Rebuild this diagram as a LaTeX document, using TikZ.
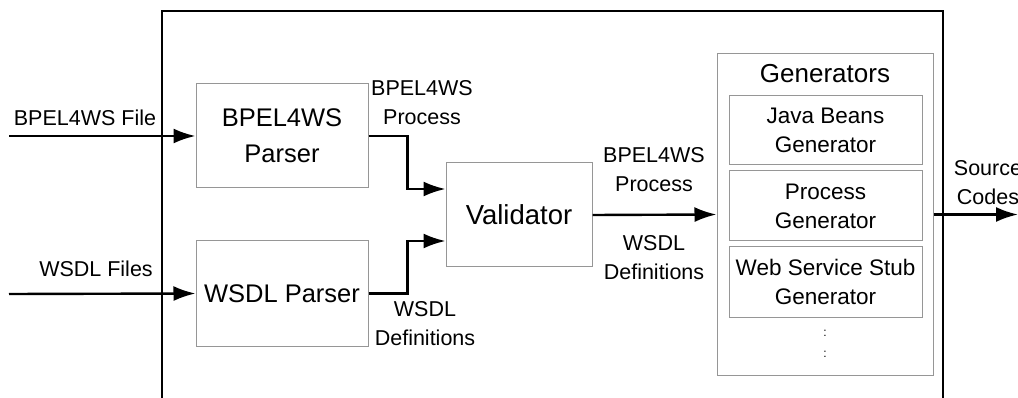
\documentclass[tikz,border=0pt]{standalone}
\usepackage{fontspec}
\setmainfont{Liberation Sans}
\usetikzlibrary{arrows.meta}
\definecolor{boxgray}{RGB}{150,150,150}
\tikzset{
  blk/.style={draw=boxgray, line width=1pt, inner sep=0pt, align=center},
  flow/.style={line width=2.4pt, -{Latex[length=22pt,width=15pt]}},
  lbl/.style={inner sep=0pt, align=center, font=\fontsize{21.5}{29}\selectfont},
  bigtxt/.style={font=\fontsize{25.5}{36}\selectfont},
  subtxt/.style={font=\fontsize{22.5}{29}\selectfont}
}
\begin{document}
\begin{tikzpicture}[x=1pt, y=-1pt]
\clip (0,0) rectangle (1018,398);
\fill[white] (0,0) rectangle (1018,398);

% enclosing frame, open at the bottom
\draw[line width=2pt] (162,398) -- (162,11) -- (943,11) -- (943,398);

% parsers and validator
\node[blk, bigtxt, minimum width=172pt, minimum height=104pt] (bp) at (282,136) {BPEL4WS\\Parser};
\node[blk, bigtxt, minimum width=172pt, minimum height=105pt] (wp) at (282,293.5) {WSDL Parser};
\node[blk, font=\fontsize{27.5}{36}\selectfont, minimum width=146pt, minimum height=104pt] (val) at (519,215) {Validator};

% generators group
\node[blk, minimum width=216pt, minimum height=321pt] (gen) at (825,214.5) {};
\node[inner sep=0pt, font=\fontsize{26}{36}\selectfont] (gtitle) at (825,74) {Generators};
\node[blk, subtxt, minimum width=193pt, minimum height=69pt] (jb) at (825.5,130.5) {Java Beans\\Generator};
\node[blk, subtxt, minimum width=193pt, minimum height=70pt] (pg) at (825.5,206) {Process\\Generator};
\node[blk, subtxt, minimum width=193pt, minimum height=70pt] (ws) at (825.5,282) {Web Service Stub\\Generator};
\node[inner sep=0pt, font=\fontsize{12}{12}\selectfont] (d1) at (825,333) {:};
\node[inner sep=0pt, font=\fontsize{12}{12}\selectfont] (d2) at (825,354) {:};

% inputs
\coordinate (inB) at (9,136);
\coordinate (inW) at (9,294);
\draw[flow] (inB) -- (bp.west);
\draw[flow] (inW) -- (wp.west);
\node[lbl] (lfile) at (85,118) {BPEL4WS File};
\node[lbl] (lwfiles) at (96,269) {WSDL Files};

% parser outputs into the validator
\draw[flow] (bp.east) -- ++(39,0) |- ([yshift=26pt]val.west);
\draw[flow] (wp.east) -- ++(39,0) |- ([yshift=-26pt]val.west);
\node[lbl] (lproc) at (422,103) {BPEL4WS\\Process};
\node[lbl] (ldefs) at (425,323.5) {WSDL\\Definitions};

% validator to generators
\draw[flow] (val.east) -- (gen.west);
\node[lbl] (lproc2) at (654,170) {BPEL4WS\\Process};
\node[lbl] (ldefs2) at (654,257.5) {WSDL\\Definitions};

% generated output
\coordinate (outC) at (1018,214.5);
\draw[flow] (gen.east) -- (outC);
\node[lbl] (lsrc) at (988,183) {Source\\Codes};
\end{tikzpicture}
\end{document}
